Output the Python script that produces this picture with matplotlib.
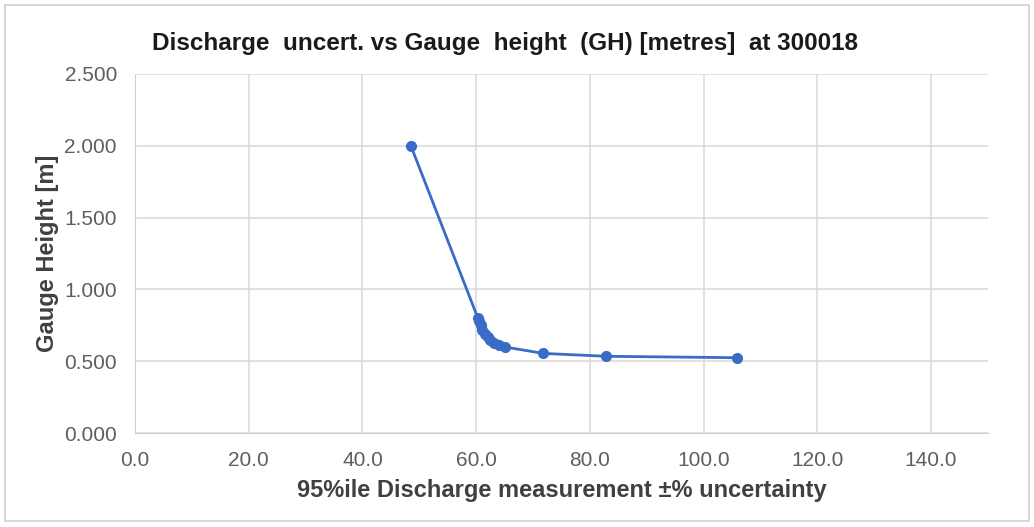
import matplotlib
matplotlib.use("Agg")
import matplotlib.pyplot as plt
from matplotlib.patches import Rectangle

# 95th percentile discharge uncertainty (%) against gauge height (m)
uncertainty = [48.5, 60.3, 60.5, 60.8, 61.1, 61.5, 62.0, 62.5, 63.2, 64.0, 65.0,
               71.8, 82.8, 105.8]
gauge_height = [2.000, 0.800, 0.780, 0.750, 0.720, 0.690, 0.670, 0.650, 0.630,
                0.615, 0.600, 0.555, 0.535, 0.525]

x_ticks = [0, 20, 40, 60, 80, 100, 120, 140]
y_ticks = [0.0, 0.5, 1.0, 1.5, 2.0, 2.5]

title = "Discharge  uncert. vs Gauge  height  (GH) [metres]  at 300018"
x_label = "95%ile Discharge measurement ±% uncertainty"
y_label = "Gauge Height [m]"

plt.rcParams["font.family"] = ["Liberation Sans", "DejaVu Sans"]

fig = plt.figure(figsize=(10.34, 5.27), dpi=100)
fig.patch.set_facecolor("white")
fig.patches.append(Rectangle((0.005, 0.012), 0.99, 0.978, transform=fig.transFigure,
                             fill=False, edgecolor="#d0d0d0", linewidth=1.2))

ax = fig.add_axes([0.1306, 0.178, 0.8249, 0.682])
line_color = "#3a6bc6"
ax.plot(uncertainty, gauge_height, color=line_color, linewidth=2, marker="o",
        markersize=7, zorder=3)

ax.set_xlim(0, 150)
ax.set_ylim(0, 2.5)
ax.set_xticks(x_ticks)
ax.set_yticks(y_ticks)
ax.set_xticklabels([f"{t:.1f}" for t in x_ticks])
ax.set_yticklabels([f"{t:.3f}" for t in y_ticks])
ax.tick_params(length=0, labelsize=15, labelcolor="#5e5e5e")
ax.tick_params(axis="y", pad=13)
ax.tick_params(axis="x", pad=13)
ax.grid(True, color="#d9d9d9", linewidth=1.1)
ax.set_axisbelow(True)
for side, spine in ax.spines.items():
    spine.set_visible(side in ("left", "bottom"))
    spine.set_color("#cfcfcf")

ax.set_xlabel(x_label, fontsize=17, fontweight="bold", color="#404040", labelpad=6)
ax.set_ylabel(y_label, fontsize=17, fontweight="bold", color="#404040", labelpad=4)
fig.text(0.488, 0.918, title, ha="center", va="center", fontsize=17.5, fontweight="bold",
         color="#1a1a1a")

fig.savefig("out.png", dpi=100)
